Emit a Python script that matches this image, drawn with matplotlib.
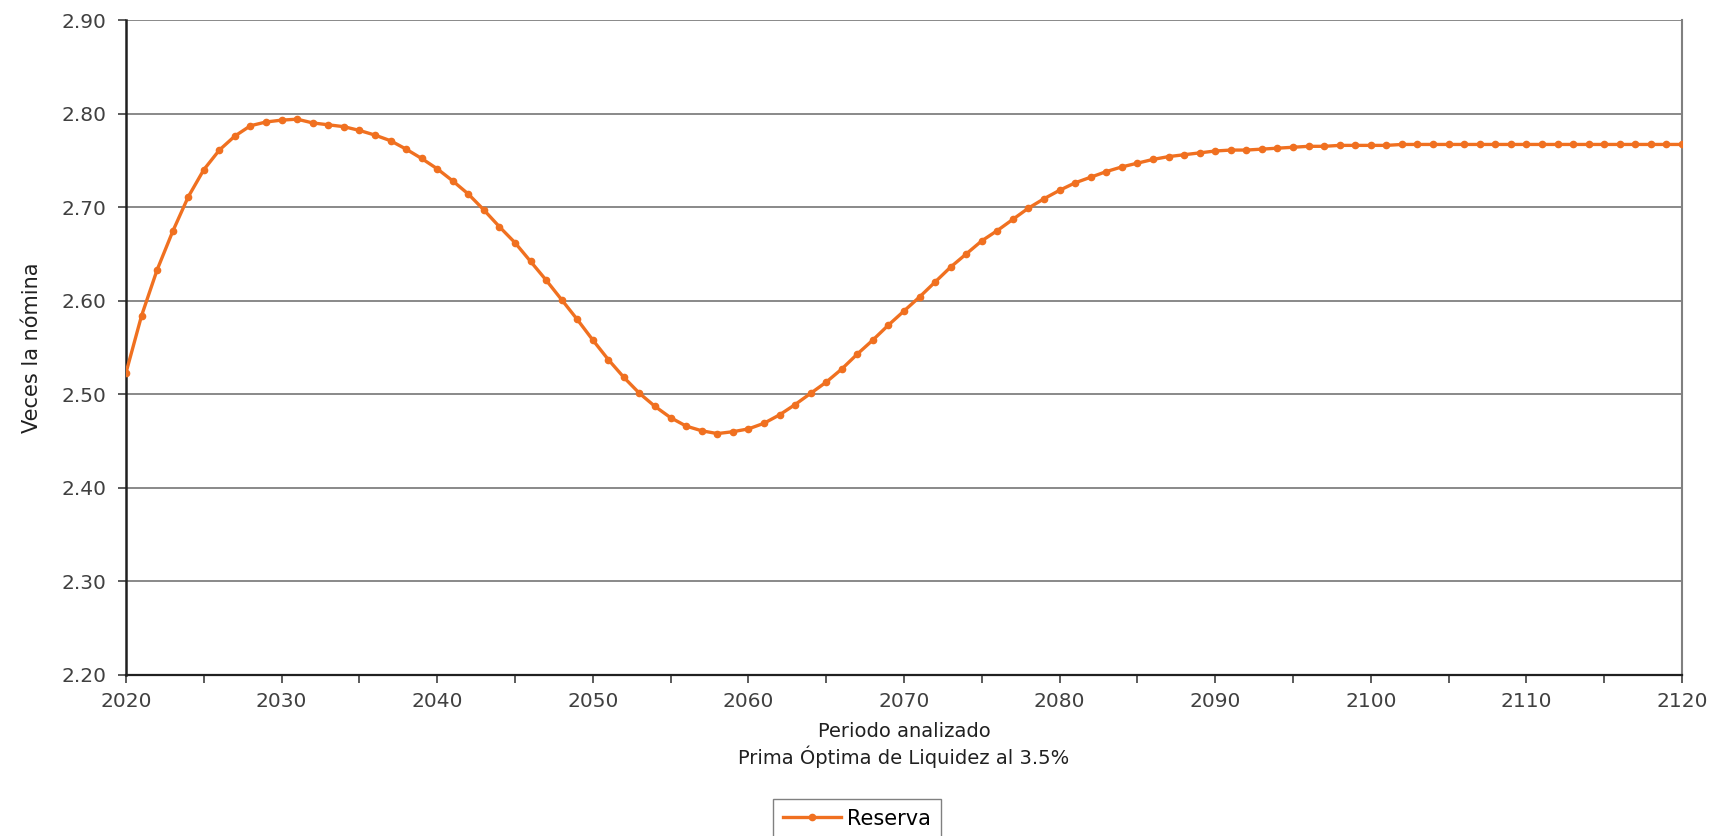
import matplotlib
matplotlib.use("Agg")
import matplotlib.pyplot as plt
import numpy as np

# Data
years = list(range(2020, 2121))
reserva = [
    2.523, 2.584, 2.633, 2.674, 2.711, 2.740, 2.761, 2.776, 2.787, 2.791,
    2.793, 2.794, 2.790, 2.788, 2.786, 2.782, 2.777, 2.771, 2.762, 2.752,
    2.741, 2.728, 2.714, 2.697, 2.679, 2.662, 2.642, 2.622, 2.601, 2.580,
    2.558, 2.537, 2.518, 2.501, 2.487, 2.475, 2.466, 2.461, 2.458, 2.460,
    2.463, 2.469, 2.478, 2.489, 2.501, 2.513, 2.527, 2.543, 2.558, 2.574,
    2.589, 2.604, 2.620, 2.636, 2.650, 2.664, 2.675, 2.687, 2.699, 2.709,
    2.718, 2.726, 2.732, 2.738, 2.743, 2.747, 2.751, 2.754, 2.756, 2.758,
    2.760, 2.761, 2.761, 2.762, 2.763, 2.764, 2.765, 2.765, 2.766, 2.766,
    2.766, 2.766, 2.767, 2.767, 2.767, 2.767, 2.767, 2.767, 2.767, 2.767,
    2.767, 2.767, 2.767, 2.767, 2.767, 2.767, 2.767, 2.767, 2.767, 2.767,
    2.767,
]
y_ticks = [2.20, 2.30, 2.40, 2.50, 2.60, 2.70, 2.80, 2.90]

line_color = "#F07020"
text_color = "#404040"
narrow = ["Liberation Sans Narrow", "DejaVu Sans"]

fig = plt.figure(figsize=(17.22, 8.36), dpi=100)
ax = fig.add_axes([126 / 1722, 1 - 675 / 836, (1682 - 126) / 1722, (675 - 20) / 836])

ax.plot(years, reserva, color=line_color, lw=2.4, marker="o", markersize=4.5,
        label="Reserva", zorder=3)

ax.set_xlim(2020, 2120)
ax.set_ylim(2.20, 2.90)
ax.set_yticks(y_ticks)
ax.set_yticklabels([f"{v:.2f}" for v in y_ticks])
ax.set_xticks(list(range(2020, 2121, 5)))
ax.set_xticklabels([str(y) if y % 10 == 0 else "" for y in range(2020, 2121, 5)])

ax.yaxis.grid(True, color="#808080", lw=1.3)
ax.set_axisbelow(True)

ax.spines["top"].set_visible(False)
ax.spines["left"].set_color("#202020")
ax.spines["left"].set_linewidth(1.8)
ax.spines["bottom"].set_color("#202020")
ax.spines["bottom"].set_linewidth(1.6)
ax.spines["right"].set_color("#808080")
ax.spines["right"].set_linewidth(1.5)

ax.tick_params(axis="both", labelsize=14.5, colors=text_color, length=6,
               width=1.2, direction="out")
ax.tick_params(axis="x", pad=6)
ax.tick_params(axis="y", pad=8)

ax.set_xlabel("Periodo analizado\nPrima Óptima de Liquidez al 3.5%",
              fontsize=14, color="#202020", labelpad=8, linespacing=1.25)
ax.set_ylabel("Veces la nómina", fontsize=15, color="#202020",
              family=narrow, labelpad=14)

# legend sits low, its frame runs off the bottom edge as in the reference
leg = fig.legend(loc="upper center", bbox_to_anchor=(857 / 1722, 1 - 793 / 836),
                 fontsize=15, frameon=True, fancybox=False, handlelength=2.8,
                 handletextpad=0.3, borderpad=0.45, borderaxespad=0.3)
leg.get_frame().set_edgecolor("#606060")
leg.get_frame().set_linewidth(1.0)

fig.savefig("out.png", dpi=100, facecolor="white")
